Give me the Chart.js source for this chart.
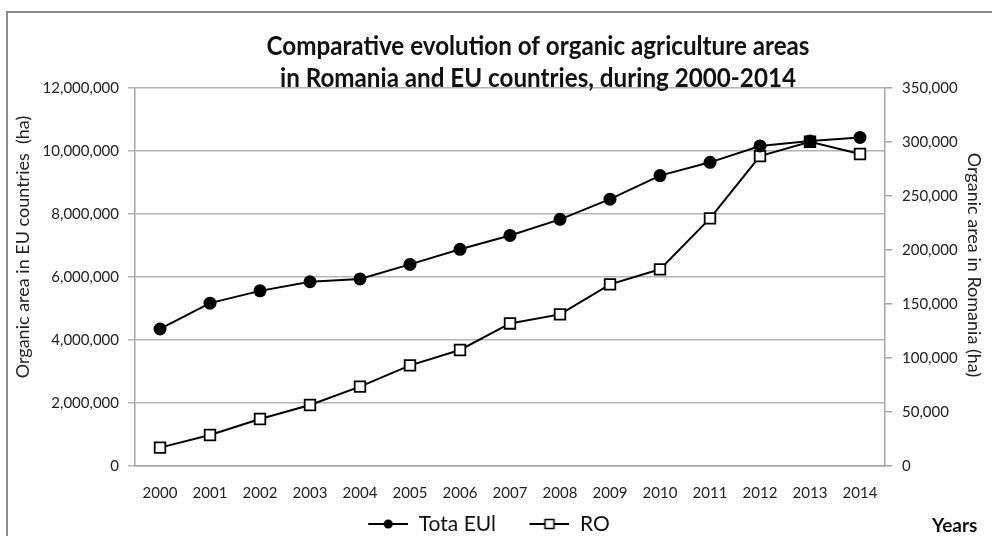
<!DOCTYPE html>
<html>
<head>
<meta charset="utf-8">
<title>Organic agriculture areas: Romania and EU, 2000-2014</title>
<script src="https://cdn.jsdelivr.net/npm/chart.js@4.4.1/dist/chart.umd.min.js"></script>
<style>
  html, body { margin: 0; padding: 0; background: #ffffff; }
  #wrap { position: relative; width: 992px; height: 536px; }
</style>
</head>
<body>
<div id="wrap"><canvas id="chart" width="992" height="536"></canvas></div>
<script>
// Years on the category axis
const years = ['2000', '2001', '2002', '2003', '2004', '2005', '2006', '2007',
               '2008', '2009', '2010', '2011', '2012', '2013', '2014'];

// Organic area in EU countries (ha), left axis
const euArea = [4350000, 5170000, 5560000, 5850000, 5940000, 6400000, 6880000, 7320000,
                7830000, 8470000, 9220000, 9640000, 10160000, 10320000, 10430000];

// Organic area in Romania (ha), right axis
const roArea = [17000, 28700, 43500, 56500, 73500, 93200, 107400, 132000,
                140400, 168200, 182100, 229300, 287000, 300300, 288900];

// Series names shown in the legend
const seriesNames = ['Tota EUl', 'RO'];

// Chart and axis titles
const titleLines = ['Comparative evolution of organic agriculture areas',
                    'in Romania and EU countries, during 2000-2014'];
const leftAxisTitle = 'Organic area in EU countries  (ha)';
const rightAxisTitle = 'Organic area in Romania (ha)';
const xAxisTitle = 'Years';

// Axis ranges
const leftMax = 12000000, leftStep = 2000000;
const rightMax = 350000, rightStep = 50000;

const FONT = "Lato, 'Open Sans', 'DejaVu Sans', sans-serif";
const fmt = v => Number(v).toLocaleString('en-US');

// Legend icons: a short line with the series marker in the middle,
// drawn in the right part of a wider canvas to space the items apart
function legendIcon(kind) {
  const c = document.createElement('canvas');
  c.width = 60; c.height = 14;
  const g = c.getContext('2d');
  g.strokeStyle = '#000'; g.lineWidth = 2;
  g.beginPath(); g.moveTo(20, 7); g.lineTo(60, 7); g.stroke();
  if (kind === 'circle') {
    g.fillStyle = '#000';
    g.beginPath(); g.arc(40, 7, 4.5, 0, Math.PI * 2); g.fill();
  } else {
    g.fillStyle = '#fff'; g.lineWidth = 1.5;
    g.fillRect(35.5, 2.5, 9, 9); g.strokeRect(35.5, 2.5, 9, 9);
  }
  return c;
}
const legendIcons = [legendIcon('circle'), legendIcon('rect')];

// Frame, titles and the "Years" caption
const decorations = {
  id: 'decorations',
  beforeDraw(chart) {
    const ctx = chart.ctx;
    ctx.save();
    ctx.strokeStyle = '#8c8c8c';
    ctx.lineWidth = 2;
    ctx.beginPath();
    ctx.moveTo(7, chart.height);
    ctx.lineTo(7, 12);
    ctx.lineTo(chart.width, 12);
    ctx.stroke();
    ctx.restore();
  },
  afterDraw(chart) {
    const ctx = chart.ctx;
    const area = chart.chartArea;
    const cx = (area.left + area.right) / 2 + 28;
    const cy = (area.top + area.bottom) / 2;
    ctx.save();
    ctx.fillStyle = '#111';
    // Two-line chart title in a narrow bold face
    const titleFont = "bold 27px " + FONT;
    ctx.font = titleFont;
    const sx = 543 / ctx.measureText(titleLines[0]).width;
    titleLines.forEach((line, i) => {
      ctx.save();
      ctx.font = titleFont;
      ctx.translate(cx, 46 + i * 32);
      ctx.scale(sx, 1);
      ctx.textAlign = 'center';
      ctx.fillText(line, 0, 0);
      ctx.restore();
    });

    // Vertical axis titles
    ctx.font = "18px " + FONT;
    ctx.fillStyle = '#222';
    ctx.textAlign = 'center';
    ctx.textBaseline = 'middle';
    ctx.save();
    ctx.translate(23, cy - 30);
    ctx.rotate(-Math.PI / 2);
    ctx.fillText(leftAxisTitle, 0, 0);
    ctx.restore();
    ctx.save();
    ctx.translate(974, cy - 12);
    ctx.rotate(Math.PI / 2);
    ctx.fillText(rightAxisTitle, 0, 0);
    ctx.restore();

    // Category axis caption, bottom right
    ctx.font = "bold 19px " + FONT;
    ctx.fillStyle = '#111';
    ctx.textAlign = 'left';
    ctx.textBaseline = 'alphabetic';
    ctx.fillText(xAxisTitle, 932, 532);
    ctx.restore();
  }
};

new Chart(document.getElementById('chart'), {
  type: 'line',
  data: {
    labels: years,
    datasets: [
      {
        label: seriesNames[0],
        data: euArea,
        yAxisID: 'y',
        borderColor: '#000',
        borderWidth: 2,
        backgroundColor: '#000',
        pointStyle: 'circle',
        pointRadius: 6.5,
        pointBorderWidth: 0,
        pointBackgroundColor: '#000',
        tension: 0
      },
      {
        label: seriesNames[1],
        data: roArea,
        yAxisID: 'y1',
        borderColor: '#000',
        borderWidth: 2,
        backgroundColor: '#fff',
        pointStyle: 'rect',
        pointRadius: 7.5,
        pointBorderWidth: 1.8,
        pointBorderColor: '#000',
        pointBackgroundColor: '#fff',
        tension: 0
      }
    ]
  },
  options: {
    responsive: false,
    animation: false,
    devicePixelRatio: 1,
    layout: { padding: { top: 88, left: 0, right: 34, bottom: 0 } },
    plugins: {
      title: { display: false },
      tooltip: { enabled: false },
      legend: {
        display: true,
        position: 'bottom',
        maxHeight: 36,
        labels: {
          usePointStyle: true,
          pointStyleWidth: 60,
          boxHeight: 14,
          padding: 13.5,
          color: '#111',
          font: { family: FONT, size: 21 },
          generateLabels(chart) {
            const items = Chart.defaults.plugins.legend.labels.generateLabels(chart);
            items.forEach((it, i) => { it.pointStyle = legendIcons[i]; });
            return items;
          }
        }
      }
    },
    scales: {
      x: {
        offset: true,
        grid: { display: false, drawTicks: false },
        border: { display: true, color: '#a6a6a6', width: 1.5 },
        ticks: { color: '#222', font: { family: FONT, size: 15 }, padding: 18, maxRotation: 0, autoSkip: false },
        afterFit(scale) { scale.height = 34; }
      },
      y: {
        position: 'left',
        min: 0,
        max: leftMax,
        ticks: { stepSize: leftStep, color: '#222', font: { family: FONT, size: 15 }, padding: 9, callback: v => fmt(v) },
        grid: { color: '#b4b4b4', lineWidth: 1.5, tickLength: 7, drawTicks: true },
        border: { display: true, color: '#a6a6a6', width: 1.5 },
        afterFit(scale) { scale.width = 135; }
      },
      y1: {
        position: 'right',
        min: 0,
        max: rightMax,
        ticks: { stepSize: rightStep, color: '#222', font: { family: FONT, size: 15 }, padding: 10, callback: v => fmt(v) },
        grid: { drawOnChartArea: false, color: '#a6a6a6', lineWidth: 1.5, tickLength: 7, drawTicks: true },
        border: { display: true, color: '#a6a6a6', width: 1.5 },
        afterFit(scale) { scale.width = 73; }
      }
    }
  },
  plugins: [decorations]
});
</script>
</body>
</html>
